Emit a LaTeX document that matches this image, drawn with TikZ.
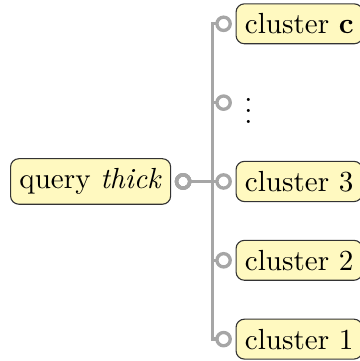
\documentclass[tikz,border=0pt]{standalone}
\usetikzlibrary{positioning,arrows.meta}
\definecolor{boxfill}{RGB}{255,249,192}

\begin{document}
\begin{tikzpicture}[
    font=\fontsize{10.5pt}{12pt}\selectfont,
    box/.style={draw=black!80,fill=boxfill,rounded corners=3pt,
      inner xsep=3.2pt,inner ysep=3.5pt,outer sep=1.5pt},
    link/.style={draw=black!35,line width=1.2pt,
      {Circle[open,length=6pt,width=6pt]}-{Circle[open,length=6pt,width=6pt]}}]
  \useasboundingbox (-32.7pt,65.5pt) rectangle (96.9pt,-64.8pt);

  \node[box] (query) at (0,0) {query \textit{thick}\/};
  \coordinate (fork) at (43.9pt,0);

  \node[box,anchor=west] (cc) at (51pt,2cm) {cluster \textbf{c}};
  \node[anchor=west,outer sep=1.5pt,inner sep=3pt] (dots) at (51pt,1cm) {\raisebox{-2pt}{$\vdots$}};
  \node[box,anchor=west] (c3) at (51pt,0) {cluster 3};
  \node[box,anchor=west] (c2) at (51pt,-1cm) {cluster 2};
  \node[box,anchor=west] (c1) at (51pt,-2cm) {cluster 1};

  \foreach \leaf in {cc,dots,c3,c2,c1}
    \draw[link] (query.east) -- (fork) |- (\leaf.west);
\end{tikzpicture}
\end{document}
